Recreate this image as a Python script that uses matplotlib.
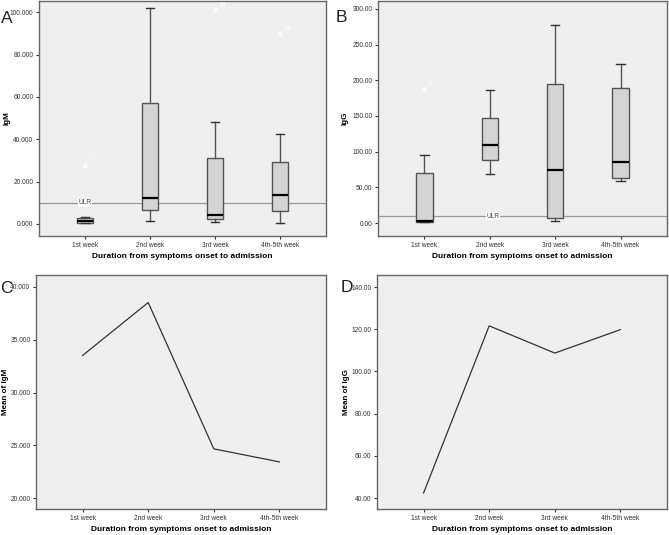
import numpy as np
import matplotlib.pyplot as plt
from matplotlib.ticker import FormatStrFormatter

plt.rcParams["font.family"] = ["Liberation Sans", "DejaVu Sans"]

weeks = ["1st week", "2nd week", "3rd week", "4th-5th week"]

# panel A: IgM box statistics
igm_whislo = [0.4, 1.4, 0.8, 0.6]
igm_q1 = [0.6, 6.8, 2.2, 6.0]
igm_med = [1.4, 12.2, 4.1, 13.8]
igm_q3 = [2.9, 57.0, 31.1, 29.2]
igm_whishi = [3.2, 101.9, 48.0, 42.5]
igm_fliers = [[27.5], [], [101.0], [89.5]]
igm_flier_ids = [["7"], [], ["18"], ["24"]]

# panel B: IgG box statistics
igg_whislo = [1.0, 68.8, 2.4, 58.9]
igg_q1 = [1.9, 88.7, 7.1, 63.6]
igg_med = [3.3, 109.0, 74.0, 85.0]
igg_q3 = [70.7, 147.6, 194.6, 189.4]
igg_whishi = [95.4, 187.0, 278.0, 223.0]
igg_fliers = [[188.0], [], [], []]
igg_flier_ids = [["6"], [], [], []]

ulr_igm = 10.0
ulr_igg = 10.0

# panels C and D: group means
mean_igm = [33.5, 38.5, 24.68, 23.45]
mean_igg = [42.4, 121.6, 108.7, 119.8]

W, H = 669, 535
BG = "#efefef"
EDGE = "#555555"
XLABEL = "Duration from symptoms onset to admission"


def frac(l, t, r, b):
    return [l / W, 1 - b / H, (r - l) / W, (b - t) / H]


def style(ax, fmt, ylim, ylabel, ylab_x):
    ax.set_facecolor(BG)
    for s in ax.spines.values():
        s.set_color("#666666")
        s.set_linewidth(1.0)
    ax.set_xlim(-0.71, 3.71)
    ax.set_ylim(*ylim)
    ax.set_xticks(range(len(weeks)))
    ax.set_xticklabels(weeks)
    ax.yaxis.set_major_formatter(FormatStrFormatter(fmt))
    ax.tick_params(labelsize=4.8, colors="#333333", length=2.5, width=0.8, pad=1.5)
    ax.set_xlabel(XLABEL, fontsize=6, fontweight="bold", va="center")
    ax.xaxis.set_label_coords(0.5, -0.088)
    ax.set_ylabel(ylabel, fontsize=5.8, fontweight="bold", va="center")
    ax.yaxis.set_label_coords(ylab_x, 0.5)


def make_stats(lo, q1, med, q3, hi, fl):
    return [dict(whislo=lo[i], q1=q1[i], med=med[i], q3=q3[i], whishi=hi[i],
                 fliers=fl[i]) for i in range(len(weeks))]


def boxpanel(ax, stats, fliers, ids, ulr, ulr_x, fmt, ylim, ylabel, ylab_x, dy):
    ax.bxp(stats, positions=range(len(weeks)), widths=0.25, patch_artist=True,
           boxprops=dict(facecolor="#d4d4d4", edgecolor=EDGE, linewidth=1.0),
           whiskerprops=dict(color=EDGE, linewidth=1.0),
           capprops=dict(color="#333333", linewidth=1.0),
           medianprops=dict(color="black", linewidth=1.6),
           flierprops=dict(marker="o", markersize=3, markerfacecolor="white",
                           markeredgecolor="#f8f8f8"))
    for i, (vals, labs) in enumerate(zip(fliers, ids)):
        for v, lab in zip(vals, labs):
            ax.text(i + 0.05, v + dy, lab, fontsize=5, color="white")
    ax.axhline(ulr, color="#999999", linewidth=0.9, zorder=1)
    ax.text(ulr_x, ulr, "ULR", fontsize=4.8, color="#444444", ha="center",
            va="center", bbox=dict(facecolor="white", edgecolor="none", pad=0.4))
    style(ax, fmt, ylim, ylabel, ylab_x)


def linepanel(ax, means, fmt, ylim, yticks, ylabel, ylab_x):
    ax.plot(range(len(weeks)), means, color="#333333", linewidth=0.9)
    style(ax, fmt, ylim, ylabel, ylab_x)
    ax.set_yticks(yticks)


fig = plt.figure(figsize=(W / 100, H / 100), dpi=100)

axA = fig.add_axes(frac(39, 1, 326, 236))
boxpanel(axA, make_stats(igm_whislo, igm_q1, igm_med, igm_q3, igm_whishi, igm_fliers),
         igm_fliers, igm_flier_ids, ulr_igm, 0, "%.3f", (-5.7, 105.3), "IgM", -0.11, 1.5)
axA.set_yticks([0, 20, 40, 60, 80, 100])

axB = fig.add_axes(frac(378, 1, 667, 236))
boxpanel(axB, make_stats(igg_whislo, igg_q1, igg_med, igg_q3, igg_whishi, igg_fliers),
         igg_fliers, igg_flier_ids, ulr_igg, 1.05, "%.2f", (-18, 311), "IgG", -0.114, 5)
axB.set_yticks([0, 50, 100, 150, 200, 250, 300])

axC = fig.add_axes(frac(36, 275, 326, 509))
linepanel(axC, mean_igm, "%.3f", (19.0, 41.1), [20, 25, 30, 35, 40], "Mean of IgM", -0.105)

axD = fig.add_axes(frac(377, 275, 667, 509))
linepanel(axD, mean_igg, "%.2f", (34.8, 145.7), [40, 60, 80, 100, 120, 140], "Mean of IgG", -0.104)

for lab, x, y in [("A", 1, 23), ("B", 336, 22), ("C", 0, 293), ("D", 341, 292)]:
    fig.text(x / W, 1 - y / H, lab, fontsize=12.5, color="#222222", ha="left", va="baseline")

fig.savefig("out.png", dpi=100)
